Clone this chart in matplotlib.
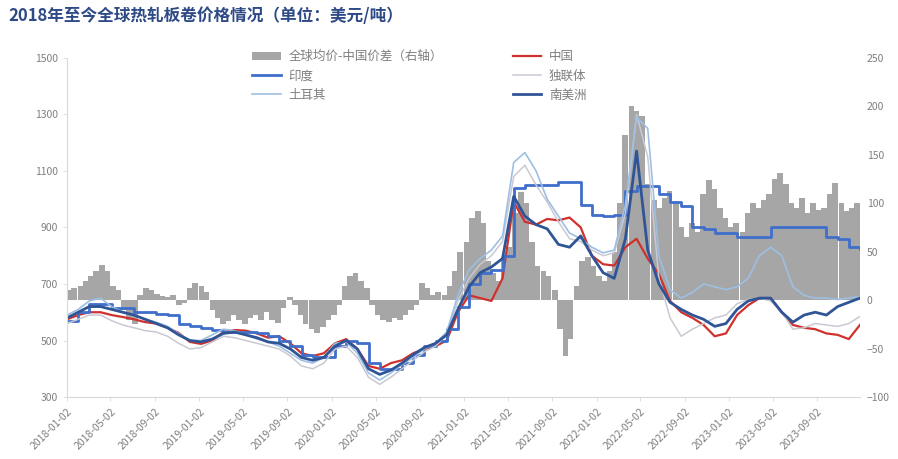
import matplotlib
matplotlib.use("Agg")
import matplotlib.pyplot as plt
import matplotlib.dates as mdates
import numpy as np
import pandas as pd

plt.rcParams['font.family'] = ['Noto Sans CJK SC', 'DejaVu Sans']

# 月度价格（美元/吨）
meses = pd.date_range('2018-01-02', '2023-12-29', periods=72)

china = [575, 590, 600, 600, 590, 583, 575, 565, 560, 545, 527, 495,
         488, 500, 530, 537, 535, 525, 510, 515, 490, 455, 445, 455,
         490, 505, 470, 410, 400, 420, 430, 455, 470, 480, 500, 600,
         660, 650, 640, 720, 990, 920, 910, 930, 925, 935, 900, 800,
         770, 765, 830, 860, 790, 735, 640, 600, 580, 555, 515, 525,
         590, 625, 650, 650, 600, 555, 545, 540, 525, 520, 505, 555]

india = [570, 600, 630, 630, 615, 615, 600, 600, 595, 590, 560, 550,
         545, 537, 530, 530, 530, 525, 515, 500, 480, 450, 440, 440,
         480, 500, 490, 420, 400, 400, 420, 450, 480, 500, 540, 620,
         700, 740, 750, 800, 1040, 1050, 1050, 1050, 1060, 1060, 980, 945,
         940, 945, 1030, 1045, 1045, 1020, 990, 975, 900, 895, 880, 880,
         865, 865, 865, 900, 900, 900, 900, 900, 865, 860, 830, 825]

cis = [560, 575, 590, 590, 570, 555, 545, 535, 530, 515, 490, 470,
       475, 495, 515, 510, 500, 490, 480, 470, 445, 410, 400, 420,
       470, 480, 440, 370, 345, 370, 400, 430, 460, 480, 520, 640,
       720, 770, 800, 850, 1080, 1120, 1050, 990, 920, 860, 850, 820,
       800, 810, 950, 1300, 1150, 720, 580, 515, 540, 560, 580, 590,
       630, 645, 650, 640, 600, 540, 545, 560, 555, 550, 560, 585]

turkey = [590, 610, 640, 650, 620, 600, 590, 575, 565, 550, 525, 500,
          500, 520, 540, 535, 520, 505, 495, 480, 455, 430, 420, 440,
          490, 495, 455, 385, 360, 385, 415, 440, 470, 490, 530, 660,
          750, 790, 820, 870, 1130, 1165, 1100, 1000, 940, 880, 860, 830,
          810, 820, 980, 1290, 1250, 800, 680, 650, 670, 700, 690, 680,
          690, 720, 800, 830, 800, 690, 660, 650, 650, 645, 650, 655]

s_america = [580, 600, 620, 620, 610, 600, 590, 575, 560, 545, 520, 500,
             495, 505, 525, 530, 520, 510, 495, 490, 470, 440, 430, 440,
             480, 500, 470, 400, 380, 395, 420, 450, 475, 490, 520, 610,
             690, 740, 760, 790, 1010, 940, 910, 895, 840, 830, 870, 800,
             740, 720, 860, 1170, 820, 700, 635, 610, 590, 575, 550, 560,
             610, 640, 650, 650, 600, 565, 590, 600, 590, 620, 635, 650]

# 半月度价差：全球均价-中国（右轴）
quinzenas = pd.date_range('2018-01-01', periods=144, freq='SMS') + pd.Timedelta(days=7)
spread = [10, 12, 15, 20, 25, 30, 36, 30, 15, 10, -10, -20,
          -25, 5, 12, 10, 6, 4, 3, 5, -5, -3, 12, 18,
          15, 8, -10, -18, -25, -22, -15, -20, -25, -18, -15, -20,
          -12, -20, -24, -8, 3, -5, -15, -25, -30, -34, -28, -20,
          -15, -5, 15, 25, 28, 20, 12, -5, -15, -20, -23, -18,
          -20, -15, -10, -5, 18, 12, 5, 8, 5, 15, 30, 50,
          60, 85, 92, 80, 40, 28, 20, 45, 55, 90, 112, 100,
          60, 35, 30, 25, 10, -30, -58, -40, 15, 40, 45, 35,
          25, 20, 30, 50, 100, 170, 200, 195, 190, 120, 103, 95,
          105, 113, 100, 75, 65, 80, 70, 110, 124, 115, 95, 85,
          75, 80, 70, 90, 100, 95, 103, 110, 125, 131, 120, 100,
          95, 105, 90, 100, 93, 95, 110, 121, 100, 92, 95, 100]

tick_dates = pd.date_range('2018-01-01', periods=18, freq='4MS') + pd.Timedelta(days=1)

fig = plt.figure(figsize=(8.98, 4.59), dpi=100)
ax = fig.add_axes([0.0746, 0.135, 0.883, 0.739])
ax2 = ax.twinx()

cinza_txt = '#7f7f7f'

ax2.bar(quinzenas, spread, width=16, color='#a6a6a6', linewidth=0,
        label='全球均价-中国价差（右轴）')
ax2.set_ylim(-100, 250)
ax2.set_yticks(np.arange(-100, 251, 50))

l_china, = ax.plot(meses, china, color='#d0312d', lw=1.6, label='中国')
l_india, = ax.plot(meses, india, color='#3f6fcb', lw=2.0, drawstyle='steps-post', label='印度')
l_cis, = ax.plot(meses, cis, color='#c9c9d3', lw=1.1, label='独联体')
l_tur, = ax.plot(meses, turkey, color='#9dbfe3', lw=1.2, label='土耳其')
l_sa, = ax.plot(meses, s_america, color='#2f5597', lw=2.0, label='南美洲')

ax.set_zorder(ax2.get_zorder() + 1)
ax.patch.set_visible(False)

ax.set_ylim(300, 1500)
ax.set_yticks(np.arange(300, 1501, 200))
ax.set_xlim(pd.Timestamp('2018-01-02'), pd.Timestamp('2023-12-29'))
ax.set_xticks(tick_dates)
ax.xaxis.set_major_formatter(mdates.DateFormatter('%Y-%m-%d'))
plt.setp(ax.get_xticklabels(), rotation=45, ha='right', rotation_mode='anchor')

for a in (ax, ax2):
    for s in a.spines.values():
        s.set_visible(False)
    a.tick_params(colors=cinza_txt, labelsize=7.5, length=3, width=0.6)
ax.spines['left'].set_visible(True)
ax.spines['bottom'].set_visible(True)
ax.spines['left'].set_color('#d9d9d9')
ax.spines['bottom'].set_color('#d9d9d9')
ax.tick_params(axis='both', color='#d9d9d9')
ax2.tick_params(axis='y', length=0, pad=5)

fig.text(0.009, 0.965, '2018年至今全球热轧板卷价格情况（单位：美元/吨）',
         fontsize=12, fontweight='bold', color='#2e4a86', va='center')

handles = [ax2.containers[0], l_india, l_tur, l_china, l_cis, l_sa]
labels = [h.get_label() for h in handles]
fig.legend(handles, labels, ncol=2, loc='upper left', bbox_to_anchor=(0.268, 0.915),
           frameon=False, fontsize=9, labelcolor=cinza_txt, handlelength=2.3,
           columnspacing=5.6, labelspacing=0.5, handletextpad=0.6)

fig.savefig('out.png', dpi=100)
